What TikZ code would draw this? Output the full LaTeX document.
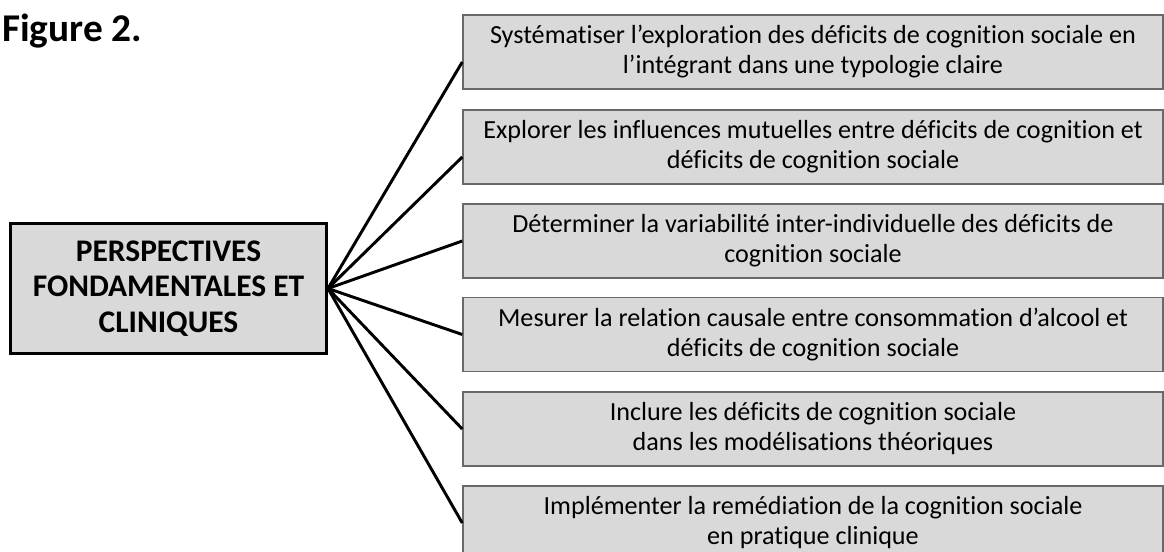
\documentclass[tikz,border=0pt]{standalone}
\usepackage{fontspec}
\setmainfont{Carlito}[Ligatures=NoCommon]
\usetikzlibrary{positioning}
\definecolor{boxgray}{RGB}{217,217,217}
\definecolor{edgegray}{RGB}{105,105,105}
\tikzstyle{main}=[rectangle,draw=black,line width=2.2pt,fill=boxgray,minimum width=237pt,minimum height=98pt,inner sep=0pt,align=center,font=\fontsize{23.6}{26.6}\selectfont\bfseries]
\tikzstyle{persp}=[rectangle,draw=edgegray,line width=1.1pt,fill=boxgray,minimum width=525pt,minimum height=55.5pt,inner sep=0pt,align=center,font=\fontsize{19.6}{22.5}\selectfont]
\tikzstyle{branch}=[line width=2.2pt]

\begin{document}
\begin{tikzpicture}[x=0.75pt,y=-0.75pt]
\useasboundingbox (0,0) rectangle (1164,552);
\node[anchor=base west,inner sep=0pt,font=\fontsize{29.5}{32}\selectfont\bfseries] (title) at (2,42) {Figure 2.};
\node[main] (persp) at (168.5,288.5) {PERSPECTIVES\\FONDAMENTALES ET\\CLINIQUES};
\node[persp] (b1) at (813,52) {Systématiser l’exploration des déficits de cognition sociale en\\l’intégrant dans une typologie claire};
\node[persp] (b2) at (813,147) {Explorer les influences mutuelles entre déficits de cognition et\\déficits de cognition sociale};
\node[persp] (b3) at (813,241) {Déterminer la variabilité inter-individuelle des déficits de\\cognition sociale};
\node[persp] (b4) at (813,334.5) {Mesurer la relation causale entre consommation d’alcool et\\déficits de cognition sociale};
\node[persp] (b5) at (813,429) {Inclure les déficits de cognition sociale\\dans les modélisations théoriques};
\node[persp] (b6) at (813,523) {Implémenter la remédiation de la cognition sociale\\en pratique clinique};
\draw[branch] (persp.east) -- ([yshift=-7.5pt]b1.west);
\draw[branch] (persp.east) -- ([yshift=-7.5pt]b2.west);
\draw[branch] (persp.east) -- (b3.west);
\draw[branch] (persp.east) -- (b4.west);
\draw[branch] (persp.east) -- (b5.west);
\draw[branch] (persp.east) -- (b6.west);
\end{tikzpicture}
\end{document}
